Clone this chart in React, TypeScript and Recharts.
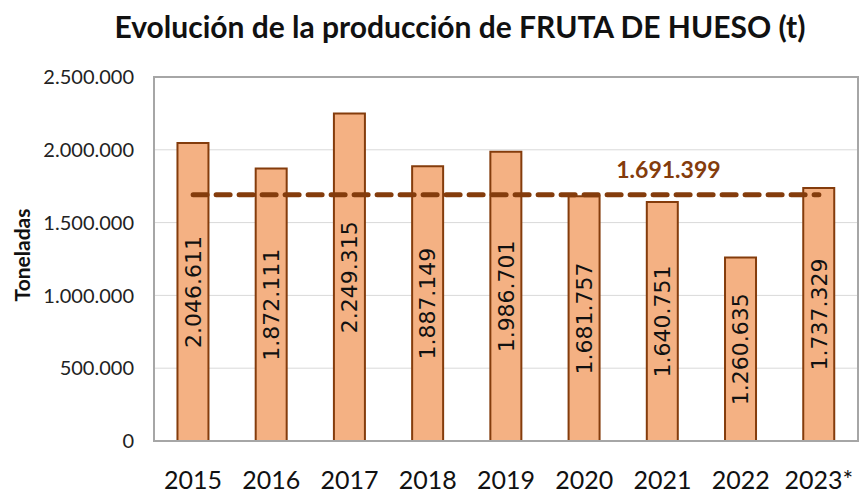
import { Bar, CartesianGrid, ComposedChart, LabelList, Line, ReferenceArea, XAxis, YAxis } from 'recharts';

const years = ['2015', '2016', '2017', '2018', '2019', '2020', '2021', '2022', '2023*'];
const production = [2046611, 1872111, 2249315, 1887149, 1986701, 1681757, 1640751, 1260635, 1737329];
const average = 1691399;
const yTicks = [0, 500000, 1000000, 1500000, 2000000, 2500000];

const fmt = (v: number) => (v === 0 ? '0' : v.toLocaleString('de-DE'));

const data = years.map((year, i) => ({ year, value: production[i], avg: average }));

const FONT = 'Lato, "Open Sans", sans-serif';
const BROWN = '#843C0C';

function AvgLabel(props: any) {
  const { x, y, index } = props;
  if (index !== 6) return null;
  return (
    <text x={x + 6} y={y - 17} textAnchor="middle" fill={BROWN} fontSize={23} fontWeight={700} fontFamily={FONT}>
      {fmt(average)}
    </text>
  );
}

export default function App() {
  return (
    <div style={{ position: 'absolute', left: 0, top: 0, width: 865, height: 497, background: '#fff', fontFamily: FONT }}>
      <div
        style={{
          position: 'absolute',
          top: 8,
          left: 0,
          width: 920,
          textAlign: 'center',
          fontSize: 30,
          fontWeight: 700,
          color: '#111',
        }}
      >
        Evolución de la producción de FRUTA DE HUESO (t)
      </div>
      <div
        style={{
          position: 'absolute',
          left: 21,
          top: 255,
          transform: 'translate(-50%, -50%) rotate(-90deg)',
          fontSize: 21,
          fontWeight: 700,
          color: '#111',
          whiteSpace: 'nowrap',
        }}
      >
        Toneladas
      </div>
      <ComposedChart
        width={865}
        height={497}
        data={data}
        margin={{ top: 77, right: 7, left: 0, bottom: 0 }}
        barCategoryGap="30%"
      >
        <CartesianGrid stroke="#D9D9D9" vertical={false} />
        <XAxis
          dataKey="year"
          height={56}
          axisLine={{ stroke: '#A6A6A6', strokeWidth: 2 }}
          tickLine={false}
          tick={{ fill: '#111', fontSize: 25, fontFamily: FONT }}
          tickMargin={24}
        />
        <YAxis
          domain={[0, 2500000]}
          ticks={yTicks}
          tickFormatter={fmt}
          width={154}
          axisLine={{ stroke: '#A6A6A6', strokeWidth: 2 }}
          tickLine={false}
          tick={{ fill: '#222', fontSize: 20, fontFamily: FONT }}
          tickMargin={14}
        />
        <ReferenceArea y1={0} y2={2500000} fill="none" stroke="#A6A6A6" strokeWidth={2} ifOverflow="visible" />
        <Bar dataKey="value" fill="#F4B183" stroke={BROWN} strokeWidth={2} isAnimationActive={false}>
          <LabelList
            dataKey="value"
            position="center"
            angle={-90}
            formatter={(v: any) => fmt(Number(v))}
            style={{ fill: '#111', fontSize: 22, fontFamily: '"DejaVu Sans", sans-serif' }}
          />
        </Bar>
        <Line
          dataKey="avg"
          stroke={BROWN}
          strokeWidth={5}
          strokeDasharray="14 9"
          strokeLinecap="round"
          dot={false}
          activeDot={false}
          isAnimationActive={false}
          label={<AvgLabel />}
        />
      </ComposedChart>
    </div>
  );
}
